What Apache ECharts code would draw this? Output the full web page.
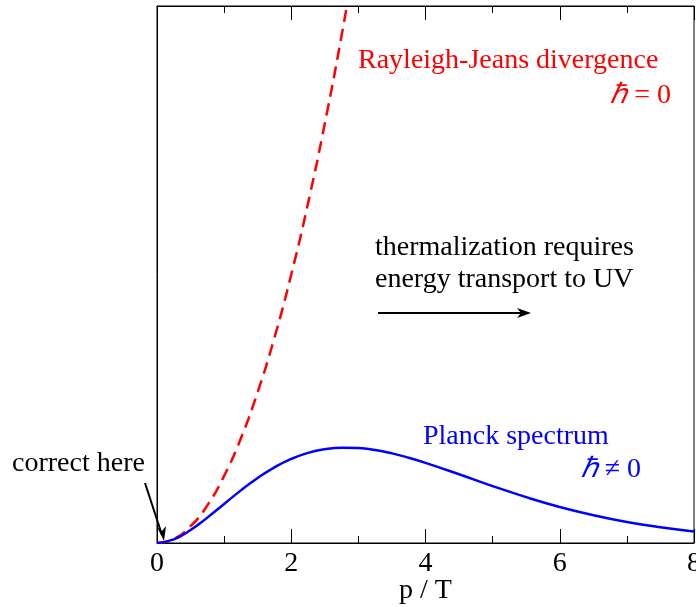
<!DOCTYPE html>
<html>
<head>
<meta charset="utf-8">
<script src="https://cdn.jsdelivr.net/npm/echarts@6/dist/echarts.min.js"></script>
<style>html,body{margin:0;padding:0;background:#fff;}#c{width:696px;height:607px;}</style>
</head>
<body>
<div id="c"></div>
<script>
// Planck spectrum (blue, solid)
var planckX = [0,0.25,0.5,0.75,1,1.25,1.5,1.75,2,2.25,2.5,2.75,3,3.25,3.5,3.75,4,4.5,5,5.5,6,6.5,7,7.5,8];
var planckY = [0,0.055,0.193,0.378,0.582,0.784,0.969,1.127,1.252,1.342,1.397,1.420,1.415,1.385,1.335,1.270,1.194,1.024,0.848,0.683,0.537,0.414,0.313,0.234,0.172];
// Rayleigh-Jeans (red, dashed)
var rjX = [0,0.25,0.5,0.75,1,1.25,1.5,1.75,2,2.25,2.5,2.75,3];
var rjY = [0,0.06,0.25,0.56,1.0,1.56,2.25,3.06,4.0,5.06,6.25,7.56,9.0];
var xTicks = [0,2,4,6,8];

function pairs(xs, ys){ return xs.map(function(x,i){return [x, ys[i]];}); }

var FONT = 'Liberation Serif';
var chart = echarts.init(document.getElementById('c'));
var axisCommon = {
  type:'value', min:0, max:8, interval:2,
  axisLine:{show:true, lineStyle:{color:'#000', width:1}},
  splitLine:{show:false},
  minorTick:{show:true, splitNumber:2, length:7, lineStyle:{color:'#000', width:1}},
  axisTick:{show:true, inside:true, length:14, lineStyle:{color:'#000', width:1}}
};
chart.setOption({
  animation:false,
  grid:{left:157, top:6, right:2, bottom:64, containLabel:false, outerBoundsMode:'none',
        show:true, borderColor:'#000', borderWidth:1},
  xAxis:[
    Object.assign({}, axisCommon, {
      position:'bottom',
      axisLabel:{show:true, fontFamily:FONT, fontSize:28, color:'#000', margin:7, hideOverlap:false,
        showMinLabel:true, showMaxLabel:true,
        formatter:function(v){ return xTicks.indexOf(v) >= 0 ? String(v) : ''; }},
      name:'p / T', nameLocation:'middle', nameGap:34, nameMoveOverlap:false,
      nameTextStyle:{fontFamily:FONT, fontSize:28, color:'#000'}
    }),
    Object.assign({}, axisCommon, {
      position:'top',
      axisLabel:{show:false}
    })
  ],
  yAxis:[{
    type:'value', min:0, max:8,
    axisLine:{show:true, lineStyle:{color:'#000', width:1}},
    axisTick:{show:false}, axisLabel:{show:false}, splitLine:{show:false}
  }],
  series:[
    {type:'line', data:pairs(rjX, rjY), smooth:true, symbol:'none', clip:true,
     lineStyle:{color:'#ff0000', width:2.5, type:[12,7]}},
    {type:'line', data:pairs(planckX, planckY), smooth:true, symbol:'none', clip:true,
     lineStyle:{color:'#0000ff', width:2.5}}
  ],
  graphic:[
    {type:'text', x:358, y:61, style:{text:'Rayleigh-Jeans divergence', fill:'#ff0000', font:'28px "Liberation Serif"', textVerticalAlign:'middle'}},
    {type:'text', x:671, y:96, style:{text:'{i|ℏ} = 0', fill:'#ff0000', font:'28px "Liberation Serif"', textAlign:'right', textVerticalAlign:'middle',
      rich:{i:{fontStyle:'italic', fontFamily:FONT, fontSize:28, fill:'#ff0000'}}}},
    {type:'text', x:375, y:248, style:{text:'thermalization requires', fill:'#000', font:'28px "Liberation Serif"', textVerticalAlign:'middle'}},
    {type:'text', x:375, y:280, style:{text:'energy transport to UV', fill:'#000', font:'28px "Liberation Serif"', textVerticalAlign:'middle'}},
    {type:'line', shape:{x1:378, y1:313, x2:526, y2:313}, style:{stroke:'#000', lineWidth:2}},
    {type:'polygon', shape:{points:[[531,313],[517,308],[521,313],[517,318]]}, style:{fill:'#000'}},
    {type:'text', x:423, y:437, style:{text:'Planck spectrum', fill:'#0000ff', font:'28px "Liberation Serif"', textVerticalAlign:'middle'}},
    {type:'text', x:641, y:470, style:{text:'{i|ℏ} ≠ 0', fill:'#0000ff', font:'28px "Liberation Serif"', textAlign:'right', textVerticalAlign:'middle',
      rich:{i:{fontStyle:'italic', fontFamily:FONT, fontSize:28, fill:'#0000ff'}}}},
    {type:'text', x:12, y:464, style:{text:'correct here', fill:'#000', font:'28px "Liberation Serif"', textVerticalAlign:'middle'}},
    {type:'line', shape:{x1:145, y1:483, x2:162, y2:535}, style:{stroke:'#000', lineWidth:2}},
    {type:'polygon', shape:{points:[[164,541],[157,527],[162,531],[166,526]]}, style:{fill:'#000'}}
  ]
});
</script>
</body>
</html>
